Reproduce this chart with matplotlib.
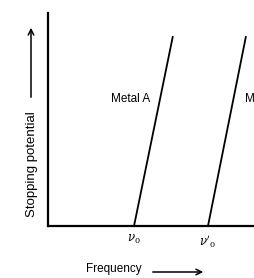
import matplotlib.pyplot as plt

# frequency (arbitrary units) and stopping potential for the two metals
metal_a_freq = [1.0, 1.45]
metal_a_volt = [0.0, 1.89]
metal_b_freq = [1.86, 2.30]
metal_b_volt = [0.0, 1.89]
tick_pos = [1.0, 1.86]
tick_labels = [r'$\nu_0$', r"$\nu'_0$"]
metal_names = ['Metal A', 'Metal B']

W, H = 254, 278
plt.rcParams['font.family'] = ['Liberation Sans', 'DejaVu Sans']
plt.rcParams['mathtext.fontset'] = 'dejavuserif'

fig = plt.figure(figsize=(W / 100, H / 100), dpi=100)
ax = fig.add_axes([48 / W, (H - 226) / H, (W - 48) / W, (226 - 13) / H])

ax.plot(metal_a_freq, metal_a_volt, color='black', lw=1.3)
ax.plot(metal_b_freq, metal_b_volt, color='black', lw=1.3)
ax.set_xlim(0, 2.395)
ax.set_ylim(0, 2.13)

for s in ['top', 'right']:
    ax.spines[s].set_visible(False)
for s in ['left', 'bottom']:
    ax.spines[s].set_linewidth(1.6)

ax.set_yticks([])
ax.set_xticks(tick_pos)
ax.set_xticklabels(tick_labels, fontsize=8.5)
ax.tick_params(axis='x', length=0, pad=5)

ax.text(1.185, 1.27, metal_names[0], ha='right', va='center', fontsize=8.5)
ax.text(2.295, 1.27, metal_names[1], ha='left', va='center', fontsize=8.5,
        clip_on=False)

# axis titles with arrows (figure pixel coordinates)
fig.text(32 / W, 1 - 164 / H, 'Stopping potential', rotation=90,
         ha='center', va='center', fontsize=9.5)
fig.add_artist(plt.Annotation('', xy=(31 / W, 1 - 25 / H), xytext=(31 / W, 1 - 100 / H),
                              xycoords='figure fraction',
                              arrowprops=dict(arrowstyle='->', color='black', lw=1.1)))
fig.text(114 / W, 1 - 269 / H, 'Frequency', ha='center', va='center', fontsize=8.5)
fig.add_artist(plt.Annotation('', xy=(206 / W, 1 - 272 / H), xytext=(150 / W, 1 - 272 / H),
                              xycoords='figure fraction',
                              arrowprops=dict(arrowstyle='->', color='black', lw=1.1)))

fig.savefig('out.png', dpi=100)
